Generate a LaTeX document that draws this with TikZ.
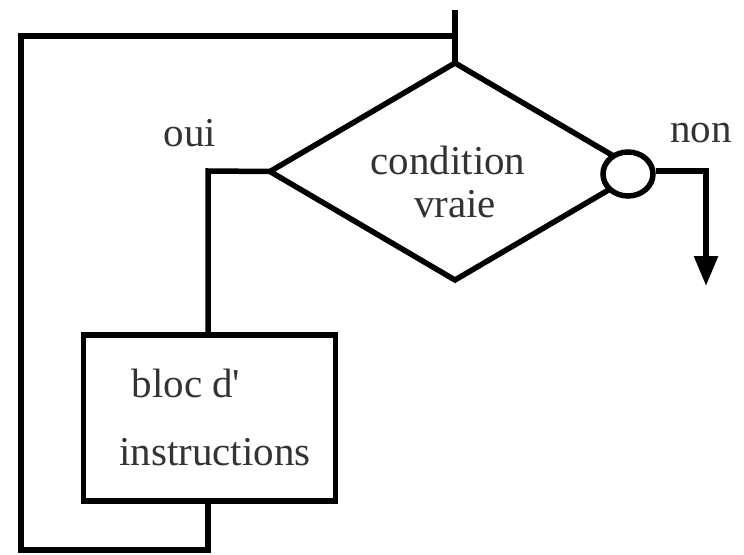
\documentclass[tikz,border=0pt]{standalone}
\usepackage{fontspec}
\setmainfont{Liberation Serif}[Ligatures=TeXOff]
\usetikzlibrary{shapes.geometric,arrows.meta}
\begin{document}
\begin{tikzpicture}[x=1pt,y=-1pt,
  ln/.style={line width=5.5pt},
  lbl/.style={inner sep=0pt, font=\fontsize{41}{48}\selectfont, text=black!80},
  blk/.style={draw, line width=5.5pt, fill=white}]
\useasboundingbox (0,0) rectangle (744,554);
% diamond
\node[blk, diamond, minimum width=370pt, minimum height=217pt, inner sep=0pt, outer sep=0pt] (cond) at (455,171.5) {};
\node[blk, ellipse, minimum width=50pt, minimum height=44pt, inner sep=0pt] (no) at (628,174) {};
% box
\node[blk, rectangle, minimum width=252pt, minimum height=166pt, inner sep=0pt, outer sep=0pt] (bloc) at (209.5,418) {};
% texts
\node[lbl] (t1) at (448,160) {condition};
\node[lbl] (t2) at (455,204) {vraie};
\node[lbl] (oui) at (190,133) {oui};
\node[lbl] (non) at (701,133) {non};
\node[lbl] (b1) at (186,383) {bloc d'};
\node[lbl] (b2) at (215,452) {instructions};
% coordinates
\coordinate (top) at (455,10);
\coordinate (j) at (455,36);
\coordinate (lt) at (21,36);
\coordinate (lb) at (21,550);
\coordinate (rb) at (208,550);
\coordinate (ol) at (208,171);
\coordinate (nr) at (706,171);
\coordinate (nend) at (706,286);
% connectors
\draw[ln] (top) -- (cond.north);
\draw[ln, line join=miter] (j) -- (lt) -- (lb) -- (rb) -- (bloc.south -| rb);
\draw[ln, line join=miter] (cond.west) -- (ol) -- (bloc.north -| ol);
\draw[ln, line join=miter, -{Triangle[width=23pt,length=30pt]}] (no.east |- nr) -- (nr) -- (nend);
\end{tikzpicture}
\end{document}
